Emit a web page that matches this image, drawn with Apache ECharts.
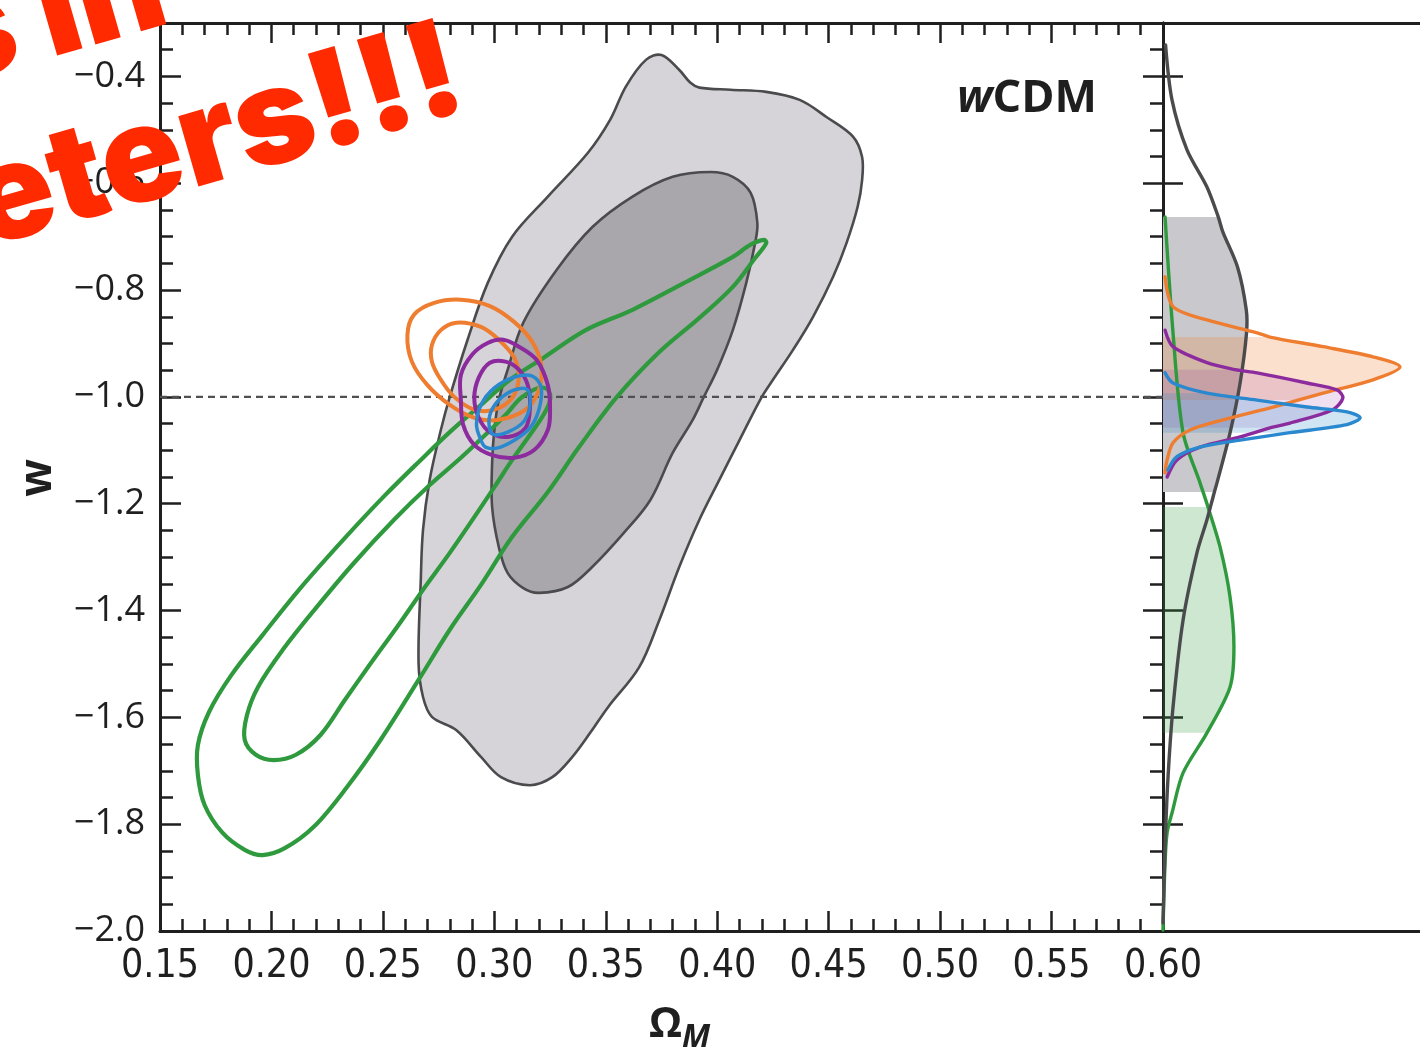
<!DOCTYPE html>
<html>
<head>
<meta charset="utf-8">
<script src="https://cdn.jsdelivr.net/npm/echarts@6/dist/echarts.min.js"></script>
<style>
  html, body { margin: 0; padding: 0; background: #ffffff; }
  #c { width: 1420px; height: 1050px; }
</style>
</head>
<body>
<div id="c"></div>
<script>
// ---- axis ticks ----
const omegaTicks = [0.15, 0.20, 0.25, 0.30, 0.35, 0.40, 0.45, 0.50, 0.55, 0.60];
const wTicks = [-2.0, -1.8, -1.6, -1.4, -1.2, -1.0, -0.8, -0.6, -0.4];
const omegaRange = [0.15, 0.60];
const wRange = [-2.0, -0.3];
const wReference = -1.0;

// ---- 2D confidence contours, [Omega_M, w] ----
const grayOuter = [
  [0.375,-0.360],[0.383,-0.388],[0.388,-0.412],[0.392,-0.421],[0.406,-0.425],[0.422,-0.429],
  [0.437,-0.444],[0.449,-0.476],[0.461,-0.513],[0.465,-0.551],[0.465,-0.594],[0.463,-0.644],
  [0.458,-0.712],[0.452,-0.775],[0.443,-0.850],[0.434,-0.912],[0.425,-0.968],[0.420,-1.000],
  [0.410,-1.081],[0.401,-1.155],[0.392,-1.230],[0.383,-1.318],[0.374,-1.418],[0.365,-1.506],
  [0.351,-1.581],[0.343,-1.629],[0.335,-1.674],[0.326,-1.712],[0.316,-1.727],[0.303,-1.712],
  [0.294,-1.674],[0.283,-1.624],[0.272,-1.599],[0.268,-1.562],[0.266,-1.498],[0.267,-1.343],
  [0.268,-1.249],[0.271,-1.155],[0.276,-1.062],[0.280,-1.000],[0.288,-0.893],[0.297,-0.787],
  [0.308,-0.700],[0.324,-0.625],[0.342,-0.543],[0.352,-0.481],[0.359,-0.419],[0.368,-0.369]
];
const grayInner = [
  [0.397,-0.579],[0.407,-0.588],[0.415,-0.618],[0.418,-0.674],[0.417,-0.712],[0.413,-0.787],
  [0.407,-0.875],[0.400,-0.949],[0.394,-1.000],[0.389,-1.043],[0.380,-1.105],[0.370,-1.193],
  [0.358,-1.255],[0.344,-1.318],[0.333,-1.356],[0.320,-1.367],[0.313,-1.358],[0.306,-1.330],
  [0.302,-1.281],[0.299,-1.206],[0.299,-1.124],[0.300,-1.062],[0.302,-1.006],[0.306,-0.949],
  [0.313,-0.861],[0.328,-0.762],[0.344,-0.682],[0.362,-0.625],[0.380,-0.588]
];
const greenOuter = [
  [0.421,-0.706],[0.415,-0.715],[0.407,-0.738],[0.385,-0.787],[0.362,-0.837],[0.341,-0.875],
  [0.322,-0.927],[0.307,-0.968],[0.294,-1.015],[0.280,-1.066],[0.267,-1.118],[0.251,-1.184],
  [0.233,-1.264],[0.213,-1.358],[0.196,-1.446],[0.182,-1.521],[0.172,-1.590],[0.167,-1.652],
  [0.167,-1.708],[0.170,-1.764],[0.178,-1.816],[0.188,-1.848],[0.196,-1.858],[0.206,-1.845],
  [0.219,-1.805],[0.234,-1.730],[0.249,-1.642],[0.266,-1.530],[0.280,-1.436],[0.294,-1.352],
  [0.308,-1.262],[0.324,-1.178],[0.338,-1.094],[0.355,-1.000],[0.374,-0.916],[0.392,-0.852],
  [0.407,-0.794],[0.417,-0.740],[0.422,-0.712]
];
const greenInner = [
  [0.201,-1.680],[0.211,-1.670],[0.222,-1.633],[0.233,-1.567],[0.244,-1.502],[0.257,-1.427],
  [0.268,-1.361],[0.280,-1.292],[0.291,-1.225],[0.300,-1.169],[0.308,-1.118],[0.316,-1.071],
  [0.322,-1.034],[0.325,-1.006],[0.324,-0.987],[0.320,-0.983],[0.312,-1.002],[0.305,-1.034],
  [0.296,-1.071],[0.285,-1.114],[0.271,-1.165],[0.255,-1.230],[0.237,-1.311],[0.220,-1.395],
  [0.205,-1.474],[0.194,-1.543],[0.189,-1.596],[0.188,-1.642],[0.193,-1.670]
];
const orangeOuter = [
  [0.261,-0.884],[0.264,-0.846],[0.273,-0.824],[0.285,-0.818],[0.298,-0.830],[0.309,-0.860],
  [0.317,-0.897],[0.321,-0.940],[0.320,-0.987],[0.314,-1.024],[0.302,-1.043],[0.291,-1.039],
  [0.280,-1.015],[0.270,-0.978],[0.263,-0.934]
];
const orangeInner = [
  [0.272,-0.903],[0.276,-0.875],[0.283,-0.861],[0.294,-0.869],[0.302,-0.893],[0.309,-0.927],
  [0.311,-0.964],[0.308,-1.002],[0.300,-1.024],[0.291,-1.024],[0.282,-1.000],[0.276,-0.968],
  [0.272,-0.934]
];
const purpleOuter = [
  [0.297,-0.899],[0.304,-0.893],[0.311,-0.906],[0.319,-0.931],[0.324,-0.978],[0.325,-1.024],
  [0.324,-1.062],[0.318,-1.099],[0.309,-1.114],[0.299,-1.109],[0.291,-1.090],[0.286,-1.052],
  [0.285,-1.006],[0.285,-0.959],[0.290,-0.921]
];
const purpleInner = [
  [0.298,-0.936],[0.305,-0.934],[0.311,-0.949],[0.315,-0.978],[0.316,-1.019],[0.314,-1.058],
  [0.306,-1.075],[0.298,-1.066],[0.293,-1.039],[0.291,-1.002],[0.293,-0.964]
];
const blueOuter = [
  [0.294,-1.081],[0.292,-1.052],[0.294,-1.015],[0.300,-0.983],[0.309,-0.963],[0.317,-0.961],
  [0.321,-0.983],[0.320,-1.024],[0.316,-1.058],[0.309,-1.081],[0.301,-1.096],[0.296,-1.094]
];
const blueInner = [
  [0.298,-1.062],[0.298,-1.034],[0.302,-1.006],[0.309,-0.987],[0.315,-0.987],[0.316,-1.015],
  [0.313,-1.047],[0.306,-1.066],[0.300,-1.071]
];

// ---- 1D marginal distributions of w, [density, w] ----
const grayMarginal = [
  [0.010,-0.341],[0.035,-0.444],[0.093,-0.537],[0.171,-0.607],[0.215,-0.663],[0.232,-0.690],
  [0.290,-0.757],[0.324,-0.837],[0.325,-0.880],[0.300,-0.974],[0.261,-1.067],[0.210,-1.161],
  [0.200,-1.178],[0.171,-1.230],[0.132,-1.292],[0.078,-1.418],[0.039,-1.581],[0.019,-1.717],
  [0.008,-1.843],[0.000,-1.985]
];
const orangeMarginal = [
  [0.008,-0.775],[0.039,-0.831],[0.171,-0.856],[0.366,-0.880],[0.416,-0.888],[0.623,-0.906],
  [0.817,-0.925],[0.922,-0.944],[0.817,-0.968],[0.623,-0.993],[0.525,-1.006],[0.428,-1.019],
  [0.233,-1.043],[0.105,-1.062],[0.039,-1.086],[0.016,-1.118],[0.008,-1.142]
];
const purpleMarginal = [
  [0.008,-0.875],[0.039,-0.906],[0.171,-0.936],[0.280,-0.949],[0.366,-0.955],[0.560,-0.974],
  [0.677,-0.987],[0.700,-1.002],[0.661,-1.024],[0.494,-1.049],[0.416,-1.058],[0.300,-1.075],
  [0.144,-1.094],[0.054,-1.118],[0.016,-1.150]
];
const blueMarginal = [
  [0.008,-0.955],[0.039,-0.974],[0.171,-0.993],[0.366,-1.006],[0.560,-1.019],[0.716,-1.028],
  [0.767,-1.039],[0.716,-1.052],[0.494,-1.067],[0.300,-1.081],[0.144,-1.094],[0.054,-1.112],
  [0.019,-1.137]
];
const greenMarginal = [
  [0.008,-0.663],[0.039,-0.880],[0.078,-1.067],[0.144,-1.161],[0.175,-1.206],[0.222,-1.281],
  [0.261,-1.375],[0.276,-1.468],[0.261,-1.543],[0.171,-1.629],[0.078,-1.704],[0.035,-1.779],
  [0.016,-1.816],[0.008,-1.873],[0.000,-1.998]
];
// 68% intervals shaded under each marginal [upper w, lower w]
const grayBand = [-0.663, -1.178];
const orangeBand = [-0.888, -1.006];
const purpleBand = [-0.949, -1.058];
const blueBand = [-0.993, -1.067];
const greenBand = [-1.206, -1.629];

// ---- styling ----
const INK = '#1f1f1f';
const NARROW = "'Liberation Sans Narrow','DejaVu Sans Condensed','Arial Narrow',sans-serif";
const SANS = "'Open Sans','Noto Sans','DejaVu Sans',sans-serif";
const HEAVY = "Inter,Roboto,Lato,sans-serif";

function range(a, b, step, digits) {
  const out = [];
  const n = Math.round((b - a) / step);
  for (let i = 0; i <= n; i++) out.push(+(a + i * step).toFixed(digits));
  return out;
}
const omegaMinor = range(0.15, 0.60, 0.01, 2);
const wMinor = range(-2.0, -0.35, 0.05, 2);

function tickOnlyAxis(extra) {
  return Object.assign({
    type: 'value', splitLine: { show: false },
    axisLabel: { show: false }, axisLine: { show: false }
  }, extra);
}
function tickStyle(len, values) {
  return { show: true, inside: true, length: len, customValues: values,
           lineStyle: { color: INK, width: 2.5 } };
}
const axisLine = { show: true, onZero: false, lineStyle: { color: INK, width: 3 } };

const xAxes = [
  // main panel, bottom
  tickOnlyAxis({ gridIndex: 0, position: 'bottom', min: omegaRange[0], max: omegaRange[1],
    axisLine: axisLine, axisTick: tickStyle(20, omegaTicks),
    axisLabel: { show: true, customValues: omegaTicks, margin: 16, color: INK,
      fontFamily: NARROW, fontSize: 39, formatter: v => v.toFixed(2) } }),
  tickOnlyAxis({ gridIndex: 0, position: 'bottom', min: omegaRange[0], max: omegaRange[1],
    axisTick: tickStyle(12, omegaMinor) }),
  // main panel, top
  tickOnlyAxis({ gridIndex: 0, position: 'top', min: omegaRange[0], max: omegaRange[1],
    axisLine: axisLine, axisTick: tickStyle(20, omegaTicks) }),
  tickOnlyAxis({ gridIndex: 0, position: 'top', min: omegaRange[0], max: omegaRange[1],
    axisTick: tickStyle(12, omegaMinor) }),
  // marginal panel, bottom and top rules
  tickOnlyAxis({ gridIndex: 1, position: 'bottom', min: 0, max: 1, axisLine: axisLine,
    axisTick: { show: false } }),
  tickOnlyAxis({ gridIndex: 1, position: 'top', min: 0, max: 1, axisLine: axisLine,
    axisTick: { show: false } })
];
const yAxes = [
  tickOnlyAxis({ gridIndex: 0, position: 'left', min: wRange[0], max: wRange[1],
    axisLine: axisLine, axisTick: tickStyle(21, wTicks),
    axisLabel: { show: true, customValues: wTicks, margin: 15, color: INK,
      fontFamily: SANS, fontSize: 36,
      formatter: v => (v < 0 ? '\u2212' : '') + Math.abs(v).toFixed(1) } }),
  tickOnlyAxis({ gridIndex: 0, position: 'left', min: wRange[0], max: wRange[1],
    axisTick: tickStyle(13, wMinor) }),
  tickOnlyAxis({ gridIndex: 0, position: 'right', min: wRange[0], max: wRange[1],
    axisLine: axisLine, axisTick: tickStyle(20, wTicks) }),
  tickOnlyAxis({ gridIndex: 0, position: 'right', min: wRange[0], max: wRange[1],
    axisTick: tickStyle(13, wMinor) }),
  tickOnlyAxis({ gridIndex: 1, position: 'left', min: wRange[0], max: wRange[1],
    axisLine: axisLine, axisTick: tickStyle(20, wTicks) })
];

// closed contour drawn through the cartesian axes
function contour(pts, fill, stroke, width, z) {
  return {
    type: 'custom', coordinateSystem: 'cartesian2d', xAxisIndex: 0, yAxisIndex: 0,
    data: pts, z: z, silent: true, animation: false,
    renderItem: (params, api) => {
      if (params.dataIndex !== 0) return null;
      return { type: 'polygon',
        shape: { points: pts.map(p => api.coord(p)), smooth: 0.35 },
        style: { fill: fill, stroke: stroke, lineWidth: width, lineJoin: 'round' } };
    }
  };
}
// shaded 68% interval under a marginal curve
function band(pts, lim, fill, z) {
  const inside = pts.filter(p => p[1] <= lim[0] + 1e-9 && p[1] >= lim[1] - 1e-9);
  const poly = [[0, lim[0]]].concat(inside, [[0, lim[1]]]);
  return {
    type: 'custom', coordinateSystem: 'cartesian2d', xAxisIndex: 4, yAxisIndex: 4,
    data: poly, z: z, silent: true, animation: false,
    renderItem: (params, api) => {
      if (params.dataIndex !== 0) return null;
      return { type: 'polygon', shape: { points: poly.map(p => api.coord(p)) },
        style: { fill: fill } };
    }
  };
}
function marginal(pts, stroke, z) {
  return {
    type: 'custom', coordinateSystem: 'cartesian2d', xAxisIndex: 4, yAxisIndex: 4,
    data: pts, z: z, silent: true, animation: false,
    renderItem: (params, api) => {
      if (params.dataIndex !== 0) return null;
      return { type: 'polyline', shape: { points: pts.map(p => api.coord(p)), smooth: 0.3 },
        style: { fill: null, stroke: stroke, lineWidth: 3.4, lineJoin: 'round', lineCap: 'round' } };
    }
  };
}

const GRAY_LINE = '#4b4b4e';
const GREEN = '#2f9a3d';
const ORANGE = '#ee7d30';
const PURPLE = '#8c2b9e';
const BLUE = '#2a88cf';

const series = [
  contour(grayOuter, '#d6d4d8', GRAY_LINE, 2.6, 1),
  contour(grayInner, '#a9a7ac', GRAY_LINE, 2.6, 2),
  {
    type: 'line', xAxisIndex: 0, yAxisIndex: 0, z: 3, symbol: 'none', silent: true,
    animation: false,
    data: [[omegaRange[0], wReference], [omegaRange[1], wReference]],
    lineStyle: { color: '#505050', width: 2.2, type: [7, 5] }
  },
  contour(greenOuter, null, GREEN, 4.2, 4),
  contour(greenInner, null, GREEN, 4.2, 4),
  contour(orangeOuter, null, ORANGE, 4, 5),
  contour(orangeInner, null, ORANGE, 4, 5),
  contour(purpleOuter, null, PURPLE, 4, 6),
  contour(purpleInner, null, PURPLE, 4, 6),
  contour(blueOuter, null, BLUE, 3.5, 7),
  contour(blueInner, null, BLUE, 3.5, 7),

  band(grayMarginal, grayBand, '#c9c8cc', 1),
  band(greenMarginal, greenBand, 'rgba(47,154,61,0.24)', 2),
  band(orangeMarginal, orangeBand, 'rgba(238,125,48,0.24)', 2),
  band(purpleMarginal, purpleBand, 'rgba(140,43,158,0.15)', 3),
  band(blueMarginal, blueBand, 'rgba(42,136,207,0.22)', 4),
  marginal(greenMarginal, GREEN, 5),
  marginal(grayMarginal, GRAY_LINE, 6),
  marginal(orangeMarginal, ORANGE, 7),
  marginal(purpleMarginal, PURPLE, 8),
  marginal(blueMarginal, BLUE, 9)
];

const graphic = [
  { type: 'text', left: 957, top: 77, z: 50, silent: true,
    style: { text: '{i|w}{b|CDM}', rich: {
      i: { fontFamily: SANS, fontSize: 45, fontWeight: 'bold', fontStyle: 'italic', fill: INK },
      b: { fontFamily: SANS, fontSize: 45, fontWeight: 'bold', fill: INK } } } },
  { type: 'text', x: 38, y: 478, rotation: Math.PI / 2, z: 50, silent: true,
    style: { text: 'w', fontFamily: SANS, fontSize: 44, fontWeight: 'bold', fill: INK,
      align: 'center', verticalAlign: 'middle' } },
  { type: 'text', left: 649, top: 1004, z: 50, silent: true,
    style: { text: '{o|\u03A9}{m|M}', rich: {
      o: { fontFamily: SANS, fontSize: 42, fontWeight: 'bold', fill: INK, verticalAlign: 'top' },
      m: { fontFamily: SANS, fontSize: 32, fontWeight: 'bold', fontStyle: 'italic', fill: INK,
           padding: [18, 0, 0, 0] } } } },
  { type: 'text', x: 180, y: 48, rotation: 16 * Math.PI / 180, z: 100, silent: true,
    style: { text: 'Tensions in', fontFamily: HEAVY, fontWeight: 900,
      fontSize: 134, fill: '#ff2a00', align: 'right', verticalAlign: 'bottom' } },
  { type: 'text', x: 478, y: 134, rotation: 16 * Math.PI / 180, z: 100, silent: true,
    style: { text: 'parameters!!!', fontFamily: HEAVY, fontWeight: 900,
      fontSize: 134, fill: '#ff2a00', align: 'right', verticalAlign: 'bottom' } }
];

const chart = echarts.init(document.getElementById('c'), null, { renderer: 'canvas' });
chart.setOption({
  animation: false,
  backgroundColor: '#ffffff',
  grid: [
    { left: 160, top: 23, width: 1003, height: 908 },
    { left: 1163, top: 23, width: 257, height: 908 }
  ],
  xAxis: xAxes,
  yAxis: yAxes,
  series: series,
  graphic: graphic
});
</script>
</body>
</html>
